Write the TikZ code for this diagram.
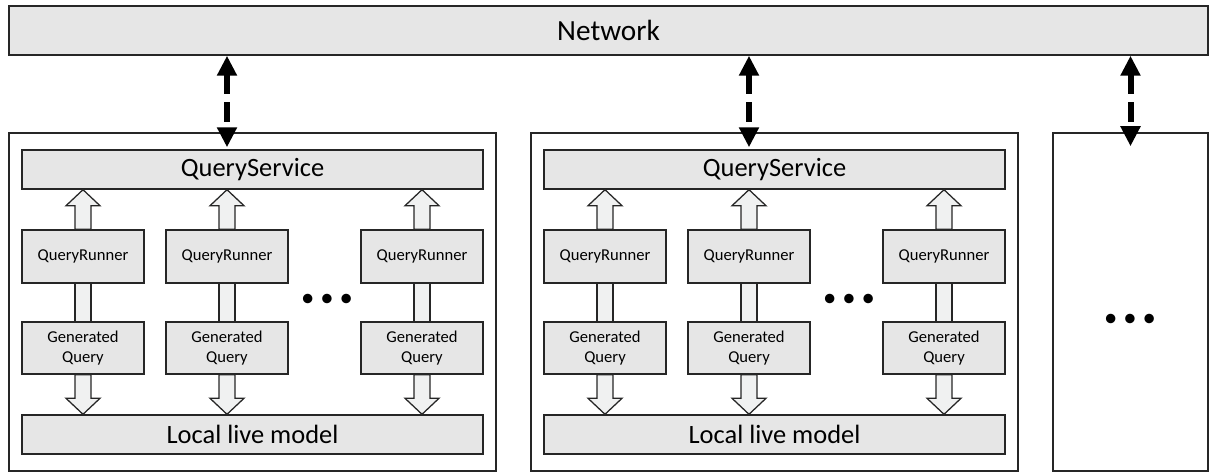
\documentclass[tikz,border=0pt]{standalone}
\usepackage{fontspec}
\setmainfont{Carlito}
\usetikzlibrary{arrows.meta,positioning,calc}
\definecolor{boxgray}{HTML}{E6E6E6}
\definecolor{arrgray}{HTML}{F0F1F1}
\tikzset{
  frame/.style={draw=black!85,line width=1pt,inner sep=0pt},
  part/.style={draw=black!85,fill=boxgray,line width=1pt,inner sep=0pt,align=center},
  wide/.style={part,minimum width=11.525cm,minimum height=0.975cm,font=\fontsize{18.8}{22}\selectfont},
  small/.style={part,minimum width=3.05cm,font=\fontsize{11.8}{14}\selectfont},
  hollow/.style={draw=black!85,fill=arrgray,line width=0.9pt},
  link/.style={{Triangle[width=0.475cm,length=0.5cm]}-{Triangle[width=0.475cm,length=0.5cm]},
               line width=0.15cm,dash pattern=on 0.5cm off 0.2cm},
  dots/.style={font=\fontsize{19}{22}\selectfont,inner sep=0pt}
}
% hohle Blockpfeile: #1 unterer Knoten, #2 oberer Knoten
\newcommand{\upblock}[2]{%
  \draw[hollow] ($(#1.north)+(-8,0)$) -- ($(#1.north |- #2.south)+(-8,16)$) -- ++(-9,0)
    -- (#1.north |- #2.south) -- ++(17,16) -- ++(-9,0) -- ($(#1.north)+(8,0)$) -- cycle;}
\newcommand{\downblock}[2]{%
  \draw[hollow] ($(#1.south)+(-8,0)$) -- ($(#1.south |- #2.north)+(-8,-16)$) -- ++(-9,0)
    -- (#1.south |- #2.north) -- ++(17,-16) -- ++(-9,0) -- ($(#1.south)+(8,0)$) -- cycle;}

\begin{document}
\begin{tikzpicture}[x=0.025cm,y=-0.025cm]
  \useasboundingbox (0,0) rectangle (1209,473);
  \node[part,minimum width=29.975cm,minimum height=1.225cm,font=\fontsize{20.8}{24}\selectfont]
    (net) at (608.5,30.5) {Network};

  % zwei ausgefuehrte Knoten, jeweils mit drei Query-Spalten
  \foreach \k/\o in {1/0,2/522}{
    \node[frame,minimum width=12.175cm,minimum height=8.45cm] (host\k) at (252.5+\o,302) {};
    \node[wide] (qs\k) at (252.5+\o,169.5) {QueryService};
    \node[wide] (llm\k) at (252.5+\o,434.5) {Local live model};
    \foreach \c/\x in {a/83,b/227,c/422}{
      \node[small,minimum height=1.325cm] (qr\k\c) at (\x+\o,256.5) {QueryRunner};
      \node[small,minimum height=1.3cm] (gq\k\c) at (\x+\o,348) {Generated\\Query};
      \upblock{qr\k\c}{qs\k}
      \draw[hollow] ($(qr\k\c.south)+(-8,0)$) rectangle ($(gq\k\c.north)+(8,0)$);
      \downblock{gq\k\c}{llm\k}
    }
    \node[dots] (more\k) at (327+\o,300) {• • •};
    \draw[link] (net.south -| qr\k b.north) -- ($(qs\k.north -| qr\k b)+(0,-2)$);
  }

  % weitere Knoten
  \node[frame,minimum width=3.875cm,minimum height=8.45cm] (host3) at (1130.5,302) {};
  \node[dots] (more3) at (1130,320) {• • •};
  \draw[link] (net.south -| host3.north) -- ($(host3.north)+(0,14)$);
\end{tikzpicture}
\end{document}
